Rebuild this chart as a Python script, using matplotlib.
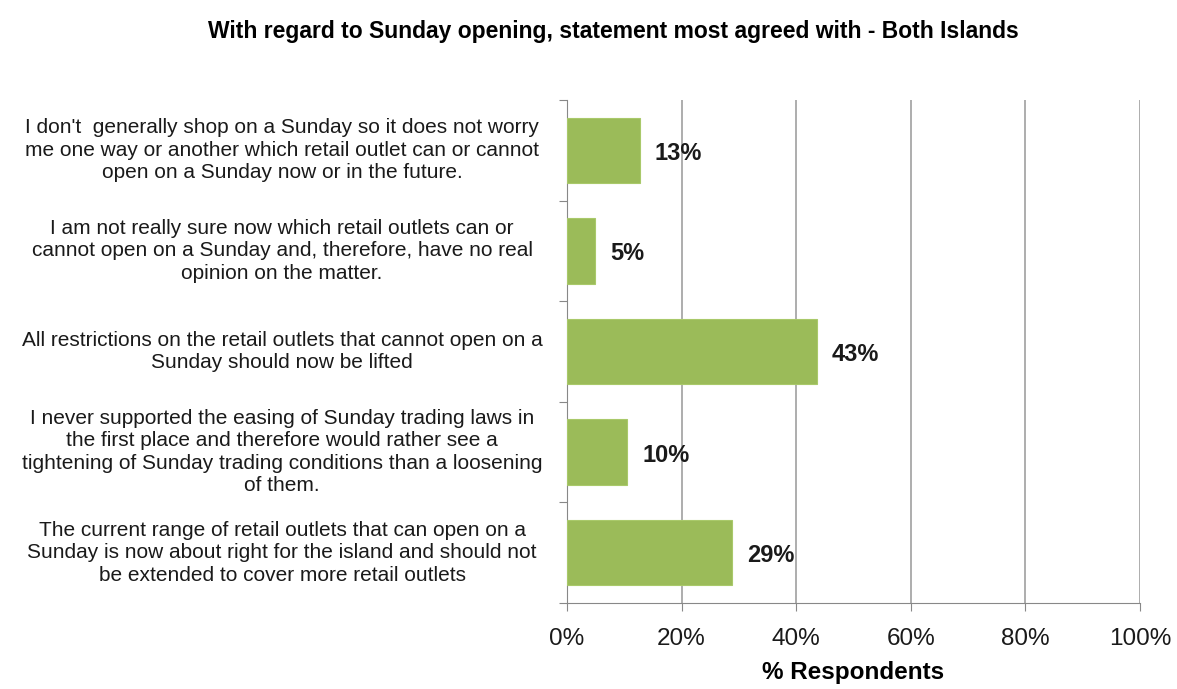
import matplotlib.pyplot as plt
from matplotlib.ticker import FuncFormatter

plt.rcParams['font.family'] = ['Liberation Sans', 'DejaVu Sans']

statements = [
    "I don't  generally shop on a Sunday so it does not worry\nme one way or another which retail outlet can or cannot\nopen on a Sunday now or in the future.",
    "I am not really sure now which retail outlets can or\ncannot open on a Sunday and, therefore, have no real\nopinion on the matter.",
    "All restrictions on the retail outlets that cannot open on a\nSunday should now be lifted",
    "I never supported the easing of Sunday trading laws in\nthe first place and therefore would rather see a\ntightening of Sunday trading conditions than a loosening\nof them.",
    "The current range of retail outlets that can open on a\nSunday is now about right for the island and should not\nbe extended to cover more retail outlets",
]
values = [12.7, 4.9, 43.6, 10.5, 28.8]
labels = ["13%", "5%", "43%", "10%", "29%"]
x_ticks = [0, 20, 40, 60, 80, 100]

fig = plt.figure(figsize=(11.77, 6.89), dpi=100)
ax = fig.add_axes([0.4817, 0.1248, 0.4869, 0.7301])

pos = list(range(len(values)))
ax.barh(pos, values, height=0.65, color="#9BBB59", edgecolor="#A9C96A", linewidth=0.8, zorder=3)
for p, v, lab in zip(pos, values, labels):
    ax.text(v + 2.6, p + 0.03, lab, va="center", ha="left", fontsize=17, fontweight="bold", color="#1a1a1a", zorder=4)

ax.set_xlim(0, 100)
ax.set_ylim(len(values) - 0.5, -0.5)
ax.set_xticks(x_ticks)
ax.xaxis.set_major_formatter(FuncFormatter(lambda x, _: f"{x:.0f}%"))
ax.tick_params(axis="x", labelsize=17.5, length=6, color="#888888", pad=12, labelcolor="#1a1a1a")

# y ticks sit at category boundaries, labels at centres
ax.set_yticks([p - 0.5 for p in pos] + [len(values) - 0.5])
ax.set_yticklabels([])
ax.tick_params(axis="y", length=6, color="#888888")
for p, s in zip(pos, statements):
    ax.text(-0.497, p, s, transform=ax.get_yaxis_transform(), ha="center", va="center",
            multialignment="center", fontsize=15, color="#1a1a1a", linespacing=1.22)

ax.grid(axis="x", color="#A0A0A0", linewidth=1.2, zorder=0)
for side in ["top", "right"]:
    ax.spines[side].set_visible(False)
for side in ["left", "bottom"]:
    ax.spines[side].set_color("#888888")

ax.set_xlabel("% Respondents", fontsize=17.5, fontweight="bold", labelpad=8)
fig.text(0.521, 0.955, "With regard to Sunday opening, statement most agreed with - Both Islands",
         ha="center", va="center", fontsize=16.5, fontweight="bold")

fig.savefig("out.png", dpi=100)
